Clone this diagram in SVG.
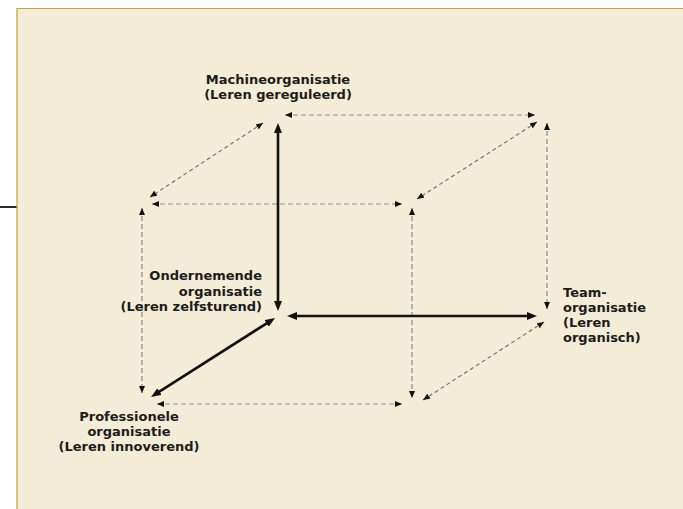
<svg xmlns="http://www.w3.org/2000/svg" width="683" height="509" viewBox="0 0 683 509">
  <style>
    .lbl { font-family: "DejaVu Sans", Verdana, sans-serif; font-weight: bold; font-size: 13px; fill: #1c1c1c; }
    .dash { stroke: #8a8a8a; stroke-width: 1.2; stroke-dasharray: 5 3; fill: none; marker-start: url(#tipS); marker-end: url(#tipS); }
    .dashd { stroke: #6e6e6e; stroke-width: 1.1; stroke-dasharray: 4 3; fill: none; marker-start: url(#tipS); marker-end: url(#tipS); }
    .axis { stroke: #111; stroke-width: 2.6; fill: none; marker-start: url(#tipL); marker-end: url(#tipL); }
  </style>
  <defs>
    <!-- small arrowhead for the dashed cube edges; tip sits on the line end -->
    <marker id="tipS" viewBox="0 0 7 6" refX="7" refY="3" markerWidth="7" markerHeight="6" markerUnits="userSpaceOnUse" orient="auto-start-reverse">
      <path d="M0,0 L7,3 L0,6 z" fill="#111"/>
    </marker>
    <!-- larger arrowhead for the solid axes; tip lies 8px beyond the line end -->
    <marker id="tipL" viewBox="0 0 10 8" refX="2" refY="4" markerWidth="10" markerHeight="8" markerUnits="userSpaceOnUse" orient="auto-start-reverse">
      <path d="M0,0 L10,4 L0,8 z" fill="#111"/>
    </marker>
  </defs>

  <!-- page and panel -->
  <rect x="0" y="0" width="683" height="509" fill="#ffffff"/>
  <rect x="17" y="8" width="666" height="501" fill="#f3ecd6"/>
  <path d="M17,509 V8.5 H683" stroke="#c6a23a" stroke-width="1.2" fill="none"/>
  <line x1="0" y1="207" x2="16.5" y2="207" stroke="#2a2a2a" stroke-width="2"/>

  <g id="connectors">
    <!-- back face edges -->
    <line class="dash" x1="285" y1="115" x2="535" y2="115"/>
    <line class="dash" x1="547" y1="123" x2="547" y2="309"/>
    <!-- depth edges -->
    <line class="dashd" x1="263" y1="123" x2="150" y2="197"/>
    <line class="dashd" x1="537" y1="122" x2="417" y2="199"/>
    <line class="dashd" x1="544" y1="322" x2="423" y2="400"/>
    <!-- front face edges -->
    <line class="dash" x1="152" y1="204" x2="402" y2="204"/>
    <line class="dash" x1="142" y1="208" x2="142" y2="393"/>
    <line class="dash" x1="412" y1="208" x2="412" y2="398"/>
    <line class="dash" x1="157" y1="404" x2="402" y2="404"/>
    <!-- solid axes -->
    <line class="axis" x1="278" y1="131" x2="278" y2="303"/>
    <line class="axis" x1="295" y1="316" x2="529" y2="316"/>
    <line class="axis" x1="268.3" y1="322.3" x2="157.8" y2="392.7"/>
  </g>

  <g id="machineorganisatie">
    <text class="lbl" x="278" y="84" text-anchor="middle">Machineorganisatie</text>
    <text class="lbl" x="278" y="99" text-anchor="middle">(Leren gereguleerd)</text>
  </g>

  <g id="ondernemende-organisatie">
    <text class="lbl" x="262" y="280" text-anchor="end">Ondernemende</text>
    <text class="lbl" x="262" y="295.5" text-anchor="end">organisatie</text>
    <text class="lbl" x="262" y="311" text-anchor="end">(Leren zelfsturend)</text>
  </g>

  <g id="teamorganisatie">
    <text class="lbl" x="563" y="297">Team-</text>
    <text class="lbl" x="563" y="312">organisatie</text>
    <text class="lbl" x="563" y="327">(Leren</text>
    <text class="lbl" x="563" y="342">organisch)</text>
  </g>

  <g id="professionele-organisatie">
    <text class="lbl" x="129" y="421" text-anchor="middle">Professionele</text>
    <text class="lbl" x="129" y="436" text-anchor="middle">organisatie</text>
    <text class="lbl" x="129" y="451" text-anchor="middle">(Leren innoverend)</text>
  </g>
</svg>
